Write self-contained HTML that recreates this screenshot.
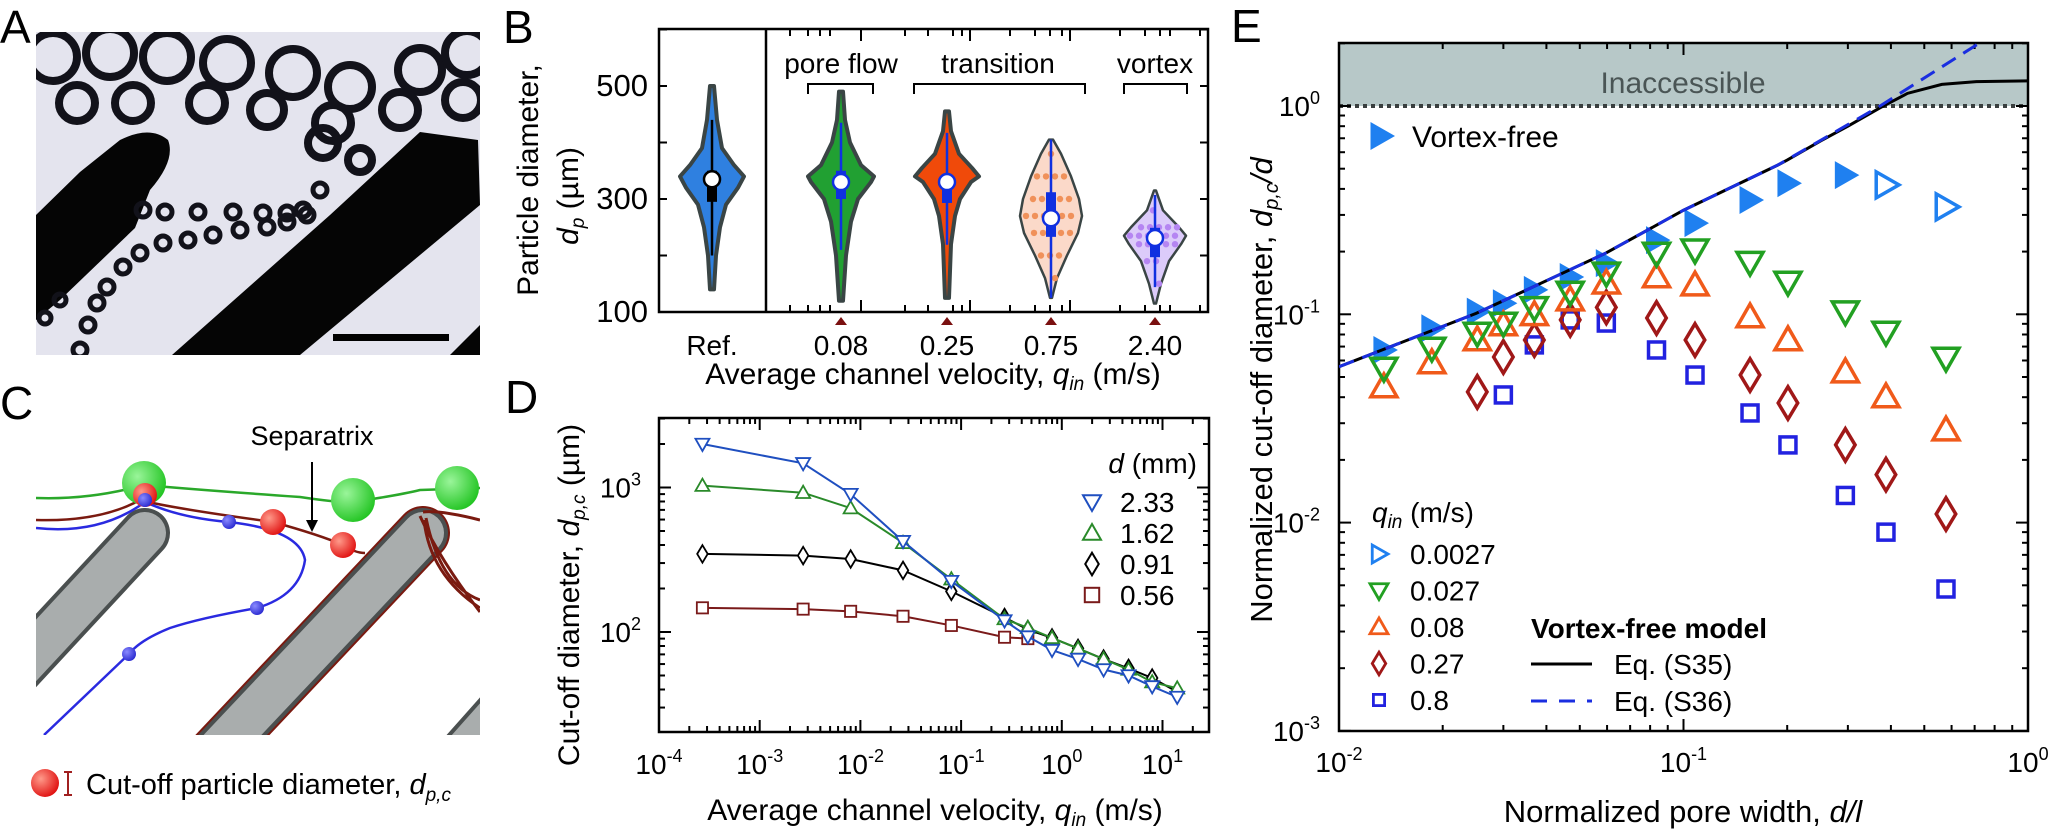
<!DOCTYPE html>
<html><head><meta charset="utf-8"><style>
html,body{margin:0;padding:0;background:#fff;}
svg{display:block;font-family:"Liberation Sans",Arial,sans-serif;}
</style></head><body>
<svg id="fig" width="2048" height="840" viewBox="0 0 2048 840" xmlns="http://www.w3.org/2000/svg">
<defs>
<radialGradient id="gGreen" cx="0.35" cy="0.35" r="0.7"><stop offset="0" stop-color="#9af59a"/><stop offset="1" stop-color="#22c422"/></radialGradient>
<radialGradient id="gRed" cx="0.35" cy="0.35" r="0.7"><stop offset="0" stop-color="#ff9a8a"/><stop offset="1" stop-color="#e01010"/></radialGradient>
<radialGradient id="gBlue" cx="0.35" cy="0.35" r="0.7"><stop offset="0" stop-color="#8a8aff"/><stop offset="1" stop-color="#2a2ad0"/></radialGradient>
<clipPath id="clipA"><rect x="36" y="32" width="444" height="323"/></clipPath>
<clipPath id="clipC"><rect x="36" y="455" width="444" height="280"/></clipPath>
<clipPath id="clipE"><rect x="1339" y="43" width="689" height="688"/></clipPath>
</defs>

<text x="0" y="43" font-size="46">A</text>
<text x="503" y="43" font-size="46">B</text>
<text x="0" y="419" font-size="46">C</text>
<text x="505" y="413" font-size="46">D</text>
<text x="1231" y="42" font-size="46">E</text>

<g id="panelA" clip-path="url(#clipA)">
<rect x="36" y="32" width="444" height="323" fill="#e4e4ee"/>
<path d="M36,215 L80,172 L120,140 Q150,125 168,140 Q176,160 150,190 L135,228 L60,300 L36,320 Z" fill="#050505"/>
<path d="M172,355 L300,355 L480,205 L478,140 L420,132 L330,215 Z" fill="#050505"/>
<path d="M450,355 L480,325 L480,355 Z" fill="#050505"/>
<g id="bubbles" fill="none" stroke="#12121a"></g>
</g>
<rect x="333" y="334" width="116" height="7" fill="#000"/>

<g clip-path="url(#clipC)">
<line x1="145" y1="533" x2="-10" y2="700" stroke="#4a4f4f" stroke-width="50" stroke-linecap="round"/>
<line x1="145" y1="533" x2="-10" y2="700" stroke="#a9adad" stroke-width="42" stroke-linecap="round"/>
<line x1="423" y1="533" x2="190" y2="780" stroke="#7a1a10" stroke-width="54" stroke-linecap="round"/>
<line x1="423" y1="533" x2="190" y2="780" stroke="#4a4f4f" stroke-width="50" stroke-linecap="round"/>
<line x1="423" y1="533" x2="190" y2="780" stroke="#a9adad" stroke-width="42" stroke-linecap="round"/>
<line x1="520" y1="690" x2="440" y2="780" stroke="#4a4f4f" stroke-width="50"/>
<line x1="520" y1="690" x2="440" y2="780" stroke="#a9adad" stroke-width="42"/>
<path d="M36,498 Q90,500 144,485 Q200,490 300,497 Q340,503 353,502 Q400,495 420,490 L480,488" fill="none" stroke="#2aa82a" stroke-width="2.5"/>
<path d="M36,520 Q100,522 140,500 Q170,508 273,522 Q320,535 343,545 Q355,553 365,553" fill="none" stroke="#7a1a10" stroke-width="2.5"/>
<path d="M36,528 Q100,535 145,502 Q180,518 229,522 Q300,530 305,560 Q300,595 257,608 Q200,618 170,628 Q140,640 129,654 L44,735" fill="none" stroke="#2a2ae0" stroke-width="2.5"/>
<path d="M423,512 Q440,510 480,520 M420,516 Q440,560 480,612 M424,520 Q430,575 480,608 M426,518 Q440,585 480,600" fill="none" stroke="#7a1a10" stroke-width="3"/>
<circle cx="144" cy="483" r="22" fill="url(#gGreen)"/>
<circle cx="353" cy="500" r="22" fill="url(#gGreen)"/>
<circle cx="457" cy="488" r="22" fill="url(#gGreen)"/>
<circle cx="145" cy="495" r="12" fill="url(#gRed)"/>
<circle cx="145" cy="500" r="7" fill="url(#gBlue)"/>
<circle cx="273" cy="522" r="13" fill="url(#gRed)"/>
<circle cx="343" cy="545" r="13" fill="url(#gRed)"/>
<circle cx="229" cy="522" r="7" fill="url(#gBlue)"/>
<circle cx="257" cy="608" r="7" fill="url(#gBlue)"/>
<circle cx="129" cy="654" r="7" fill="url(#gBlue)"/>
</g>
<text x="312" y="445" font-size="27" text-anchor="middle">Separatrix</text>
<line x1="312" y1="462" x2="312" y2="524" stroke="#000" stroke-width="2"/>
<path d="M306,520 L312,532 L318,520 Z" fill="#000"/>
<circle cx="45" cy="783" r="14" fill="url(#gRed)"/>
<path d="M64,772 L72,772 M68,772 L68,795 M64,795 L72,795" stroke="#a02020" stroke-width="2" fill="none"/>
<text x="86" y="794" font-size="29">Cut-off particle diameter, <tspan font-style="italic">d</tspan><tspan font-style="italic" font-size="19" dy="7">p,c</tspan></text>

<g id="panelB"></g>
<g id="panelD"></g>
<g id="panelE"></g>
</svg>
<script>
const NS="http://www.w3.org/2000/svg";
function mk(parent,tag,attrs,text){const e=document.createElementNS(NS,tag);for(const k in attrs)e.setAttribute(k,attrs[k]);if(text!==undefined)e.textContent=text;parent.appendChild(e);return e;}

/* ===== Panel A bubbles (decorative) ===== */
const bubbleRows=[[53,57,24],[110,53,24],[167,57,24],[227,63,24],[293,73,24],[350,87,22],[420,70,22],[467,53,22],[77,103,18],[133,103,18],[207,103,18],[267,110,17],[333,123,18],[400,110,18],[463,100,18],[323,143,15],[360,160,12]];
const bubbleSmall=[[143,210,7],[165,212,7],[198,212,7],[233,212,7],[263,213,7],[287,213,7],[303,210,7],[320,190,7],[80,350,7],[88,325,7],[97,303,7],[107,287,7],[123,267,7],[140,253,7],[163,243,7],[188,240,7],[213,235,7],[240,230,7],[267,227,7],[287,222,7],[307,215,7],[45,318,6],[60,300,6]];
(function(){const g=document.getElementById('bubbles');
bubbleRows.forEach(b=>{const c=mk(g,'circle',{cx:b[0],cy:b[1],r:b[2],'stroke-width':8});});
bubbleSmall.forEach(b=>{const c=mk(g,'circle',{cx:b[0],cy:b[1],r:b[2],'stroke-width':5});});})();

/* ===== Panel B: violin data ===== */
const bCategories=["Ref.","0.08","0.25","0.75","2.40"];
const bMedians=[335,330,330,266,231];
const bBoxLow=[295,300,293,233,197];
const bBoxHigh=[350,350,340,312,249];
const bWhiskLow=[200,210,219,125,144];
const bWhiskHigh=[440,435,417,405,307];
const bProfiles=[
 [[140,2],[200,4],[250,8],[290,14],[320,26],[340,32],[360,22],[390,10],[440,5],[500,2]],
 [[120,2],[200,5],[260,10],[300,17],[330,30],[340,33],[360,20],[400,9],[440,4],[490,2]],
 [[125,2],[220,4],[270,8],[300,13],[330,24],[340,32],[355,25],[380,12],[420,4],[455,2]],
 [[125,1],[160,6],[200,16],[240,27],[270,31],[300,28],[340,20],[380,10],[405,2]],
 [[115,1],[150,6],[190,14],[220,26],[235,31],[250,24],[280,8],[315,1]]];
const bYTicks=[100,300,500];
const bGroups=["pore flow","transition","vortex"];
(function(){
const g=document.getElementById('panelB');
const L=659,R=1208,T=29,B=312,DIV=766;
const centers=[712,841,947,1051,1155];
const fills=["#2f80e0","#21a032","#f04a0a","#fbd9c9","#dccbfa"];
const dots=[null,null,null,"#f0915a","#b585f2"];
const y=v=>B-(v-100)*0.565;
mk(g,'rect',{x:L,y:T,width:R-L,height:B-T,fill:'none',stroke:'#000','stroke-width':2.5});
mk(g,'line',{x1:DIV,y1:T,x2:DIV,y2:B,stroke:'#000','stroke-width':2.5});
[100,200,300,400,500,600].forEach(v=>{mk(g,'line',{x1:L,y1:y(v),x2:L+8,y2:y(v),stroke:'#000','stroke-width':2});mk(g,'line',{x1:R,y1:y(v),x2:R-8,y2:y(v),stroke:'#000','stroke-width':2});});
bYTicks.forEach(v=>{const t=mk(g,'text',{x:648,y:y(v)+10,'font-size':31,'text-anchor':'end'},String(v));});
[[790,0],[808,0],[820,0],[830,0],[861,1],[905,0],[928,0],[953,0],[962,0],[970,1],[1010,0],[1035,0],[1050,0],[1062,0],[1070,1],[1120,0],[1145,0],[1160,0],[1170,0],[1200,0]].forEach(t=>{const h=t[1]?12:7;mk(g,'line',{x1:t[0],y1:B,x2:t[0],y2:B-h,stroke:'#000','stroke-width':2});mk(g,'line',{x1:t[0],y1:T,x2:t[0],y2:T+h,stroke:'#000','stroke-width':2});});
bCategories.forEach((c,i)=>{
 const cx=centers[i];const prof=bProfiles[i];
 let d='M'+cx+','+y(prof[0][0]);
 for(let k=0;k<prof.length;k++)d+=' L'+(cx+prof[k][1])+','+y(prof[k][0]);
 for(let k=prof.length-1;k>=0;k--)d+=' L'+(cx-prof[k][1])+','+y(prof[k][0]);
 const p=mk(g,'path',{d:d+'Z',fill:fills[i],stroke:'#3a4545','stroke-width':i<3?4:2.5,'stroke-linejoin':'round'});
 
 if(dots[i]){for(let k=1;k<prof.length-1;k++){const w=prof[k][1]-6;for(let dx=-w;dx<=w;dx+=9){mk(g,'circle',{cx:cx+dx+((k%2)*4),cy:y(prof[k][0]),r:3.2,fill:dots[i]});}}}
 const col=i===0?'#000':'#1030e0';
 mk(g,'line',{x1:cx,y1:y(bWhiskLow[i]),x2:cx,y2:y(bWhiskHigh[i]),stroke:col,'stroke-width':2.5});
 mk(g,'rect',{x:cx-5,y:y(bBoxHigh[i]),width:10,height:y(bBoxLow[i])-y(bBoxHigh[i]),fill:col});
 const m=mk(g,'circle',{cx:cx,cy:y(bMedians[i]),r:8,fill:'#fff',stroke:col,'stroke-width':2.5});
 
 const t=mk(g,'text',{x:cx,y:355,'font-size':28,'text-anchor':'middle'},c);
 
 if(i>0)mk(g,'path',{d:`M${cx-6},325 L${cx},317 L${cx+6},325 Z`,fill:'#7a1010'});
});
const brk=[[808,873,841],[914,1085,998],[1124,1187,1155]];
bGroups.forEach((n,i)=>{const b=brk[i];mk(g,'path',{d:`M${b[0]},94 L${b[0]},84 L${b[1]},84 L${b[1]},94`,fill:'none',stroke:'#000','stroke-width':2});
 const t=mk(g,'text',{x:b[2],y:73,'font-size':28,'text-anchor':'middle'},n);});
const yt=mk(g,'text',{transform:'translate(538,180) rotate(-90)','font-size':30,'text-anchor':'middle'},'Particle diameter,');

const yt2=mk(g,'text',{transform:'translate(578,196) rotate(-90)','font-size':30,'text-anchor':'middle'});

yt2.innerHTML='<tspan font-style="italic">d</tspan><tspan font-style="italic" font-size="19" dy="6">p</tspan><tspan dy="-6"> (µm)</tspan>';
const xt=mk(g,'text',{x:933,y:384,'font-size':30,'text-anchor':'middle'});

xt.innerHTML='Average channel velocity, <tspan font-style="italic">q</tspan><tspan font-style="italic" font-size="19" dy="6">in</tspan><tspan dy="-6"> (m/s)</tspan>';
})();

/* ===== Panel D data ===== */
const dVelocity=[0.00027,0.0027,0.008,0.0265,0.08,0.27,0.46,0.8,1.45,2.6,4.6,7.9,14];
const dSeries233=[2000,1470,900,425,225,120,93,75,65,55,50,42,35.5];
const dSeries162=[1030,920,720,414,232,123,107,91,77,65,55,45,40.8];
const dSeries091=[347,338,320,267,191,126,104,91,77,65,56,48,38.5];
const dSeries056=[147,144,139,128.5,111,92,90];
const dLegend=["2.33","1.62","0.91","0.56"];
const dXTicks=[-4,-3,-2,-1,0,1];
const dYTicks=[2,3];
function marker(g,type,x,y,s,col,fill,sw){
 let el;
 if(type==='down')el=mk(g,'path',{d:`M${x-s},${y-s*0.75} L${x+s},${y-s*0.75} L${x},${y+s} Z`});
 else if(type==='up')el=mk(g,'path',{d:`M${x-s},${y+s*0.75} L${x+s},${y+s*0.75} L${x},${y-s} Z`});
 else if(type==='right')el=mk(g,'path',{d:`M${x-s*0.75},${y-s} L${x-s*0.75},${y+s} L${x+s},${y} Z`});
 else if(type==='diamond')el=mk(g,'path',{d:`M${x},${y-s*1.25} L${x+s*0.75},${y} L${x},${y+s*1.25} L${x-s*0.75},${y} Z`});
 else el=mk(g,'rect',{x:x-s*0.8,y:y-s*0.8,width:s*1.6,height:s*1.6});
 el.setAttribute('fill',fill);el.setAttribute('stroke',col);el.setAttribute('stroke-width',sw);el.setAttribute('stroke-linejoin','miter');
 return el;}
(function(){
const g=document.getElementById('panelD');
const L=659,R=1209,T=418,B=732;
const x=v=>L+(Math.log10(v)+4)*100.7;
const y=v=>632-(Math.log10(v)-2)*144.5;
mk(g,'rect',{x:L,y:T,width:R-L,height:B-T,fill:'none',stroke:'#000','stroke-width':2.5});
for(let e=-4;e<=1;e++)for(let k=1;k<10;k++){const xv=x(k*Math.pow(10,e));if(xv>R)continue;const h=k===1?12:6;
 mk(g,'line',{x1:xv,y1:B,x2:xv,y2:B-h,stroke:'#000','stroke-width':2});mk(g,'line',{x1:xv,y1:T,x2:xv,y2:T+h,stroke:'#000','stroke-width':2});}
for(let e=1;e<=3;e++)for(let k=1;k<10;k++){const yv=y(k*Math.pow(10,e));if(yv<T||yv>B)continue;const h=k===1?12:6;
 mk(g,'line',{x1:L,y1:yv,x2:L+h,y2:yv,stroke:'#000','stroke-width':2});mk(g,'line',{x1:R,y1:yv,x2:R-h,y2:yv,stroke:'#000','stroke-width':2});}
dXTicks.forEach(e=>{const t=mk(g,'text',{x:x(Math.pow(10,e)),y:774,'font-size':28,'text-anchor':'middle'});
 
 t.innerHTML='10<tspan font-size="18" dy="-12">'+(e<0?'-'+(-e):e)+'</tspan>';});
dYTicks.forEach(e=>{const t=mk(g,'text',{x:641,y:y(Math.pow(10,e))+10,'font-size':28,'text-anchor':'end'});
 
 t.innerHTML='10<tspan font-size="18" dy="-12">'+e+'</tspan>';});
const series=[[dSeries056,'#7a1a1a','square'],[dSeries091,'#000','diamond'],[dSeries162,'#2a8a2a','up'],[dSeries233,'#1f4fc0','down']];
series.forEach(s=>{const vals=s[0];let d='';vals.forEach((v,i)=>{d+=(i?'L':'M')+x(dVelocity[i])+','+y(v);});
 const l=mk(g,'path',{d:d,fill:'none',stroke:s[1],'stroke-width':2});
 vals.forEach((v,i)=>{const m=marker(g,s[2],x(dVelocity[i]),y(v),7,s[1],'#fff',1.8);});});
const lt=mk(g,'text',{x:1197,y:473,'font-size':28,'text-anchor':'end'});lt.innerHTML='<tspan font-style="italic">d</tspan> (mm)';

const lcol=['#1f4fc0','#2a8a2a','#000','#7a1a1a'],ltype=['down','up','diamond','square'];
dLegend.forEach((n,i)=>{const yy=502+i*31;const m=marker(g,ltype[i],1092,yy,9,lcol[i],'#fff',2);
 const t=mk(g,'text',{x:1120,y:yy+10,'font-size':28},n);});
const yt=mk(g,'text',{transform:'translate(579,595) rotate(-90)','font-size':30,'text-anchor':'middle'});

yt.innerHTML='Cut-off diameter, <tspan font-style="italic">d</tspan><tspan font-style="italic" font-size="19" dy="6">p,c</tspan><tspan dy="-6"> (µm)</tspan>';
const xt=mk(g,'text',{x:935,y:820,'font-size':30,'text-anchor':'middle'});

xt.innerHTML='Average channel velocity, <tspan font-style="italic">q</tspan><tspan font-style="italic" font-size="19" dy="6">in</tspan><tspan dy="-6"> (m/s)</tspan>';
})();

/* ===== Panel E data ===== */
const ePoreWidth=[0.0135,0.0186,0.0252,0.030,0.0369,0.0469,0.0597,0.0835,0.108,0.156,0.201,0.295,0.387,0.578];
const eVortexFree=[0.0674,0.0857,0.103,0.113,0.131,0.151,0.176,0.227,0.274,0.354,0.426,0.466];
const eQ0027=[null,null,null,null,null,null,null,null,null,null,null,null,0.418,0.328];
const eQ027=[0.0552,0.0689,0.0813,0.0908,0.108,0.128,0.158,0.197,0.204,0.178,0.143,0.103,0.0822,0.0617];
const eQ08=[0.0448,0.0584,0.0753,0.0889,0.0993,0.117,0.141,0.151,0.138,0.097,0.0753,0.0528,0.0401,0.0278];
const eQ27=[null,null,0.0424,0.0624,0.0753,0.094,0.108,0.096,0.0753,0.0511,0.0375,0.0236,0.017,0.011];
const eQ8=[null,null,null,0.041,0.0713,0.094,0.0908,0.0674,0.0511,0.0336,0.0236,0.0135,0.009,0.0048];
const eModelX=[0.01,0.025,0.0596,0.1,0.188,0.2,0.25,0.3,0.372,0.447,0.562,0.708,1.0];
const eS35=[0.056,0.101,0.197,0.316,0.521,0.55,0.68,0.8,0.98,1.15,1.27,1.31,1.32];
const eS36X=[0.01,0.025,0.0596,0.1,0.188,0.372,0.721];
const eS36=[0.056,0.101,0.197,0.316,0.521,1.0,2.0];
const eXTicks=[-2,-1,0];
const eYTicks=[0,-1,-2,-3];
const eLegendQ=["0.0027","0.027","0.08","0.27","0.8"];
(function(){
const g=document.getElementById('panelE');
const L=1339,R=2028,T=43,B=731;
const x=v=>L+(Math.log10(v)+2)*344.5;
const y=v=>106-Math.log10(v)*208.3;
mk(g,'rect',{x:L,y:T,width:R-L,height:y(1)-T,fill:'#b7c8c8'});
mk(g,'line',{x1:L,y1:y(1),x2:R,y2:y(1),stroke:'#3a3f3f','stroke-width':4,'stroke-dasharray':'4,4'});
const ia=mk(g,'text',{x:1683,y:93,'font-size':30,'text-anchor':'middle',fill:'#4a5555'},'Inaccessible');

mk(g,'rect',{x:L,y:T,width:R-L,height:B-T,fill:'none',stroke:'#000','stroke-width':2.5});
for(let e=-2;e<0;e++)for(let k=1;k<10;k++){const xv=x(k*Math.pow(10,e));const h=k===1?12:6;
 mk(g,'line',{x1:xv,y1:B,x2:xv,y2:B-h,stroke:'#000','stroke-width':2});mk(g,'line',{x1:xv,y1:T,x2:xv,y2:T+h,stroke:'#000','stroke-width':2});}
for(let e=-3;e<=0;e++)for(let k=1;k<10;k++){const yv=y(k*Math.pow(10,e));if(yv<T||yv>B)continue;const h=k===1?12:6;
 mk(g,'line',{x1:L,y1:yv,x2:L+h,y2:yv,stroke:'#000','stroke-width':2});mk(g,'line',{x1:R,y1:yv,x2:R-h,y2:yv,stroke:'#000','stroke-width':2});}
eXTicks.forEach(e=>{const t=mk(g,'text',{x:x(Math.pow(10,e)),y:772,'font-size':28,'text-anchor':'middle'});
 
 t.innerHTML='10<tspan font-size="18" dy="-12">'+(e<0?'-'+(-e):e)+'</tspan>';});
eYTicks.forEach(e=>{const t=mk(g,'text',{x:1320,y:y(Math.pow(10,e))+10,'font-size':28,'text-anchor':'end'});
 
 t.innerHTML='10<tspan font-size="18" dy="-12">'+(e<0?'-'+(-e):e)+'</tspan>';});
const pg=mk(g,'g',{'clip-path':'url(#clipE)'});
eVortexFree.forEach((v,i)=>{const m=marker(pg,'right',x(ePoreWidth[i]),y(v),14,'#1f80f0','#1f80f0',0);});
const sets=[[eQ8,'square','#2222e0'],[eQ27,'diamond','#a01818'],[eQ08,'up','#f05a1a'],[eQ027,'down','#22a022'],[eQ0027,'right','#1f80f0']];
sets.forEach(s=>{s[0].forEach((v,i)=>{if(v==null)return;const m=marker(pg,s[1],x(ePoreWidth[i]),y(v),s[1]==='square'?10:13,s[2],'none',3.5);});});
let d='';eModelX.forEach((v,i)=>{d+=(i?'L':'M')+x(v)+','+y(eS35[i]);});
const l1=mk(pg,'path',{d:d,fill:'none',stroke:'#000','stroke-width':3});
d='';eS36X.forEach((v,i)=>{d+=(i?'L':'M')+x(v)+','+y(eS36[i]);});
const l2=mk(pg,'path',{d:d,fill:'none',stroke:'#1a2ee0','stroke-width':3,'stroke-dasharray':'16,9'});
const vm=marker(g,'right',1381,136,14,'#1f80f0','#1f80f0',0);
const vt=mk(g,'text',{x:1412,y:147,'font-size':30},'Vortex-free');
const qt=mk(g,'text',{x:1372,y:522,'font-size':28});qt.innerHTML='<tspan font-style="italic">q</tspan><tspan font-style="italic" font-size="19" dy="6">in</tspan><tspan dy="-6"> (m/s)</tspan>';

const lt=['right','down','up','diamond','square'],lc=['#1f80f0','#22a022','#f05a1a','#a01818','#2222e0'];
eLegendQ.forEach((n,i)=>{const yy=554+i*36.5;const m=marker(g,lt[i],1379,yy,lt[i]==='square'?7:9,lc[i],'none',2.8);
 const t=mk(g,'text',{x:1410,y:yy+10,'font-size':28},n);});
const mt=mk(g,'text',{x:1531,y:638,'font-size':28,'font-weight':'bold'},'Vortex-free model');
mk(g,'line',{x1:1531,y1:664,x2:1592,y2:664,stroke:'#000','stroke-width':3});
mk(g,'line',{x1:1531,y1:701,x2:1592,y2:701,stroke:'#1a2ee0','stroke-width':3,'stroke-dasharray':'16,12'});
const t1=mk(g,'text',{x:1614,y:674,'font-size':28},'Eq. (S35)');
const t2=mk(g,'text',{x:1614,y:711,'font-size':28},'Eq. (S36)');
const yt=mk(g,'text',{transform:'translate(1272,390) rotate(-90)','font-size':31,'text-anchor':'middle'});

yt.innerHTML='Normalized cut-off diameter,  <tspan font-style="italic">d</tspan><tspan font-style="italic" font-size="20" dy="6">p,c</tspan><tspan font-style="italic" dy="-6">/d</tspan>';
const xt=mk(g,'text',{x:1683,y:822,'font-size':31,'text-anchor':'middle'});

xt.innerHTML='Normalized pore width, <tspan font-style="italic">d/l</tspan>';
})();
</script>
</body></html>
